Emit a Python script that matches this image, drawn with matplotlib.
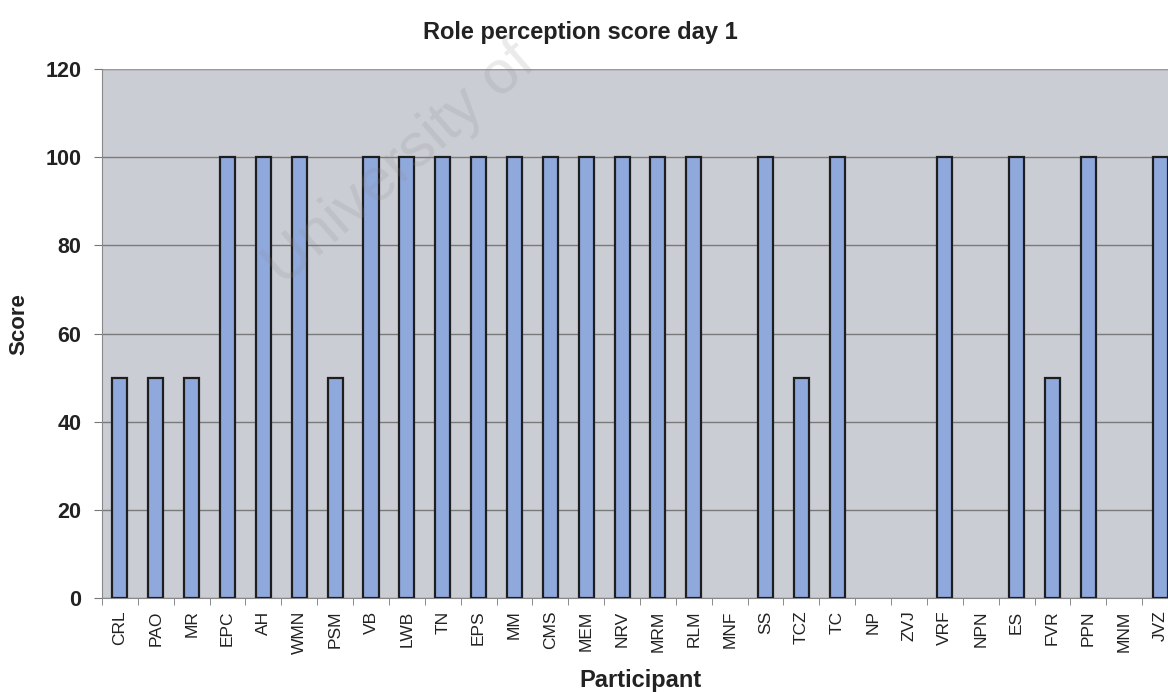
import matplotlib
matplotlib.use("Agg")
import matplotlib.pyplot as plt
import numpy as np

participants = ["CRL", "PAO", "MR", "EPC", "AH", "WMN", "PSM", "VB", "LWB", "TN",
                "EPS", "MM", "CMS", "MEM", "NRV", "MRM", "RLM", "MNF", "SS", "TCZ",
                "TC", "NP", "ZVJ", "VRF", "NPN", "ES", "FVR", "PPN", "MNM", "JVZ"]
scores = [50, 50, 50, 100, 100, 100, 50, 100, 100, 100,
          100, 100, 100, 100, 100, 100, 100, 0, 100, 50,
          100, 0, 0, 100, 0, 100, 50, 100, 0, 100]
yticks = [0, 20, 40, 60, 80, 100, 120]

plt.rcParams['font.family'] = ['Liberation Sans', 'DejaVu Sans']

fig = plt.figure(figsize=(11.68, 6.92), dpi=100)
ax = fig.add_axes([102/1168, 94/692, 1076/1168, 529/692])
ax.set_facecolor('#cacdd4')

x = np.arange(len(participants))
lws = [1.6 if s > 0 else 0 for s in scores]
ax.bar(x, scores, width=0.42, color='#90a9dd', edgecolor='#1e1e1e', linewidth=lws, zorder=3)

ax.set_xlim(-0.5, len(participants) - 0.5)
ax.set_ylim(0, 120)
ax.set_yticks(yticks)
ax.set_yticklabels([str(v) for v in yticks], fontsize=15.5, fontweight='bold', color='#222222')
ax.yaxis.grid(True, color='#7a7a7a', linewidth=1.0, zorder=1)
ax.set_axisbelow(True)

ax.set_xticks(x)
ax.set_xticklabels(participants, rotation=90, fontsize=12.5, color='#222222')
ax.set_xticks(np.arange(-0.5, len(participants), 1.0), minor=True)
ax.tick_params(axis='x', which='major', length=0, pad=9)
ax.tick_params(axis='x', which='minor', length=5, color='#777777')
ax.tick_params(axis='y', length=6, color='#777777', pad=9)

for s in ['top', 'right']:
    ax.spines[s].set_visible(False)
ax.spines['left'].set_color('#888888')
ax.spines['bottom'].set_color('#888888')
ax.axhline(120, color='#999999', linewidth=1.5, zorder=2)

fig.text(580/1168, 1 - 33/692, "Role perception score day 1", ha='center', va='center',
         fontsize=17, fontweight='bold', color='#222222')
fig.text(641/1168, 1 - 680/692, "Participant", ha='center', va='center',
         fontsize=17, fontweight='bold', color='#222222')
fig.text(19/1168, 1 - 324/692, "Score", ha='center', va='center', rotation=90,
         fontsize=16, fontweight='bold', color='#222222')

fig.text(400/1168, 1 - 165/692, "University of", ha='center', va='center', rotation=41,
         fontsize=44, color='#8a8a8a', alpha=0.18, zorder=10)

fig.savefig("out.png", dpi=100)
